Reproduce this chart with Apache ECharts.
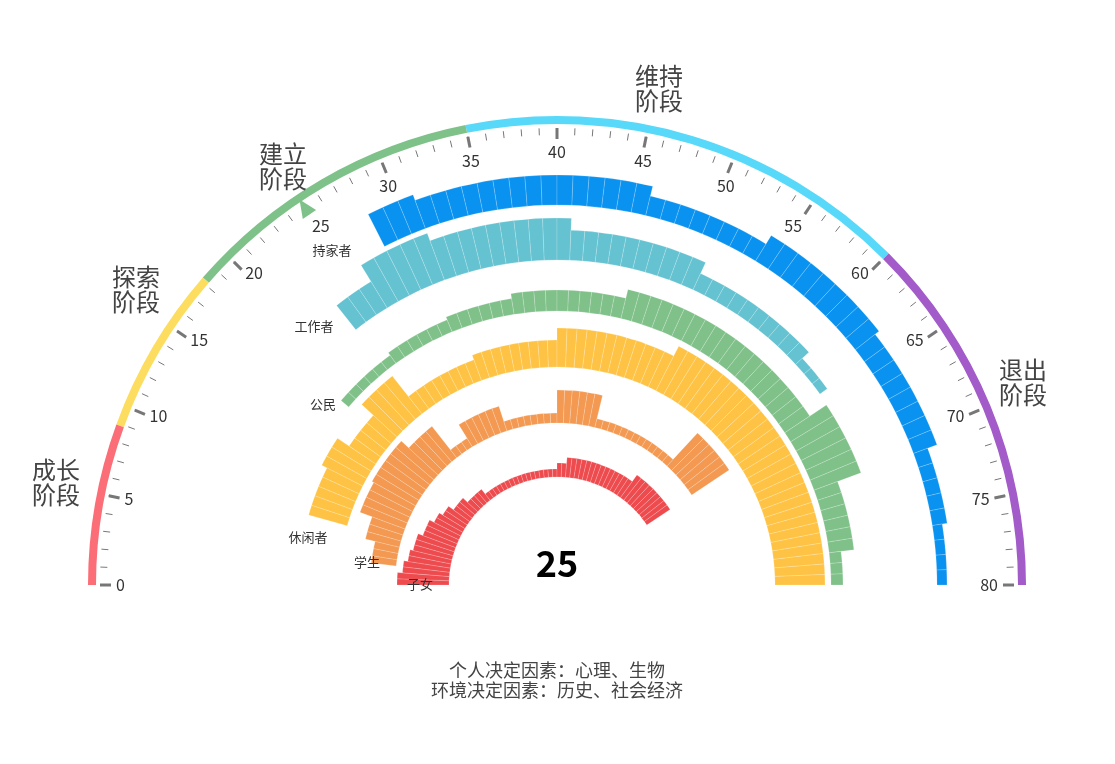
<!DOCTYPE html>
<html>
<head>
<meta charset="utf-8">
<script src="https://cdn.jsdelivr.net/npm/echarts@6/dist/echarts.min.js"></script>
<style>html,body{margin:0;padding:0;background:#fff}#main{width:1115px;height:764px}</style>
</head>
<body>
<div id="main"></div>
<script>
// 年龄 0..79，每个角色每年的厚度（null = 无此角色）
const roles = ['子女', '学生', '休闲者', '公民', '工作者', '持家者'];
const child = [52,52,47,47,43,43,40,40,40,35,35,35,30,30,26,26,20,20,20,14,14,14,14,
  8,8,8,8,8,8,8,8,8,8,8,8,8,8,8,8,8,14,14,20,20,20,20,20,20,20,20,20,20,20,20,20,20,
  28,28,28,28,28,28,28,28,28,null,null,null,null,null,null,null,null,null,null,null,null,null,null,null];
const student = [null,null,null,25,25,25,35,35,35,48,48,48,48,50,50,50,50,50,50,40,40,40,40,
  10,10,10,26,26,26,26,26,26,10,10,10,10,10,10,10,10,33,33,33,33,33,33,
  9,9,9,9,9,9,9,9,9,9,9,9,9,45,45,45,45,45,45,null,null,null,null,null,null,null,null,null,null,null,null,null,null,null];
const leisure = [null,null,null,null,null,null,null,40,40,40,40,40,46,46,46,32,32,32,32,48,48,48,48,
  22,22,22,22,22,22,22,22,27,27,27,27,27,27,27,27,27,39,39,39,39,39,39,39,39,39,39,39,39,
  50,50,50,50,50,50,50,50,50,50,50,50,50,50,50,50,50,50,50,50,50,50,50,50,50,50,50,50];
const citizen = [null,null,null,null,null,null,null,null,null,null,null,null,null,null,null,null,null,null,
  10,10,10,10,10,10,13,13,13,13,13,13,16,16,16,16,16,16,21,21,21,21,21,21,21,21,21,21,
  30,30,30,30,30,30,30,30,30,30,30,30,30,30,30,30,30,30,30,50,50,50,50,50,50,25,25,25,25,25,25,12,12,12];
const worker = [null,null,null,null,null,null,null,null,null,null,null,null,null,null,null,null,null,null,null,null,null,null,null,
  31,31,31,50,50,50,50,50,42,42,42,42,42,42,42,42,42,42,30,30,30,30,30,30,30,30,30,30,
  18,18,18,18,18,18,18,18,18,18,9,9,9,null,null,null,null,null,null,null,null,null,null,null,null,null,null,null,null];
const home = [null,null,null,null,null,null,null,null,null,null,null,null,null,null,null,null,null,null,null,null,null,null,null,null,null,null,null,null,
  36,36,36,30,30,30,30,30,30,30,30,30,30,30,30,30,30,30,20,20,20,20,20,20,20,20,
  30,30,30,30,30,30,30,30,30,25,25,25,25,25,25,25,25,15,15,15,15,15,10,10,10,10];
const roleData = [child, student, leisure, citizen, worker, home];
const roleInner = [108, 162, 218, 274, 325, 380];
const roleColors = ['#ee4b4f', '#f39952', '#fec344', '#80c18a', '#65c2d1', '#0a92f0'];
const stages = ['成长\n阶段', '探索\n阶段', '建立\n阶段', '维持\n阶段', '退出\n阶段'];
const stageEnds = [8.9, 18.2, 35, 60, 80];
const stageColors = ['#fc6e77', '#fddd60', '#7ec28a', '#58d9f9', '#a25bc8'];
const currentAge = 25;

const cx = 557, cy = 585;
const font = '"Noto Sans CJK SC", sans-serif';
const years = [];
for (let i = 0; i < 160; i++) years.push(i);

const chart = echarts.init(document.getElementById('main'));
chart.setOption({
    textStyle: { fontFamily: font },
    polar: roleInner.map((r) => ({ center: [cx, cy], radius: [r, r + 60] })),
    angleAxis: roleInner.map((r, i) => ({
        polarIndex: i, type: 'category', data: years, startAngle: 180, clockwise: true, show: false,
    })),
    radiusAxis: roleInner.map((r, i) => ({ polarIndex: i, min: 0, max: 60, show: false })),
    series: [
        ...roleData.map((d, i) => ({
            type: 'bar', coordinateSystem: 'polar', polarIndex: i, name: roles[i],
            data: d, barCategoryGap: '0%', silent: true,
            itemStyle: { color: roleColors[i], borderColor: 'rgba(255,255,255,0.35)', borderWidth: 0.5 },
        })),
        {
            type: 'gauge', center: [cx, cy], radius: 469, startAngle: 180, endAngle: 0,
            min: 0, max: 80, splitNumber: 16,
            axisLine: { lineStyle: { width: 8, color: stageEnds.map((e, i) => [e / 80, stageColors[i]]) } },
            axisTick: { distance: 4, length: 7, splitNumber: 5, lineStyle: { color: '#777', width: 1 } },
            splitLine: { distance: 4, length: 11, lineStyle: { color: '#777', width: 3 } },
            axisLabel: { distance: 13, color: '#333', fontSize: 16 },
            pointer: { icon: 'triangle', length: 18, width: 16, offsetCenter: [0, '-95%'], itemStyle: { color: 'auto' } },
            anchor: { show: false },
            title: { show: false },
            detail: { offsetCenter: [0, -22], fontSize: 36, fontWeight: 'bold', color: '#000', formatter: '{value}' },
            data: [{ value: currentAge }],
        },
    ],
    graphic: [
        ...[[58, 483], [138, 290], [285, 167], [661, 89], [1025, 383]].map((p, i) => ({
            type: 'text', left: p[0] - 26, top: p[1] - 26, z: 100,
            style: { text: stages[i], fontSize: 24, fill: '#444', lineHeight: 25, align: 'center', x: 26, fontFamily: font },
        })),
        ...[[420, 584], [367, 562], [308, 537], [323, 404], [314, 326], [332, 250]].map((p, i) => ({
            type: 'text', x: p[0], y: p[1], z: 100,
            style: { text: roles[i], fontSize: 13, fill: '#333', align: 'center', verticalAlign: 'middle', fontFamily: font },
        })),
        {
            type: 'text', x: 557, y: 680, z: 100,
            style: { text: '个人决定因素：心理、生物\n环境决定因素：历史、社会经济', fontSize: 18, lineHeight: 20,
                     fill: '#444', align: 'center', verticalAlign: 'middle', fontFamily: font },
        },
    ],
});
</script>
</body>
</html>
